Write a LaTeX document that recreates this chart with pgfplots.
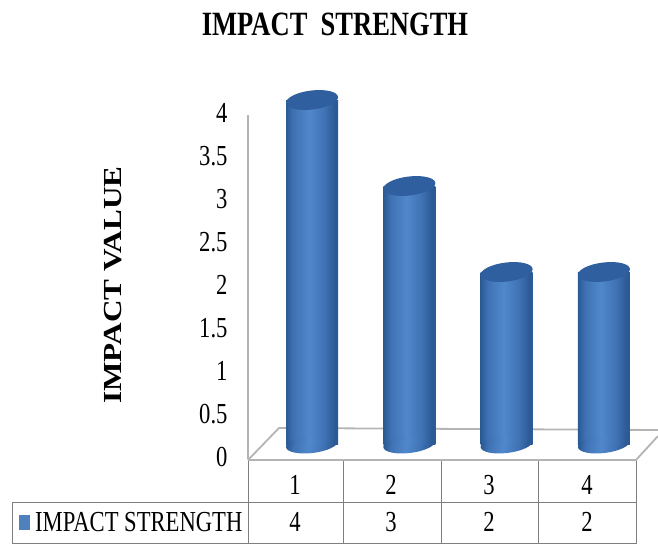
\documentclass[border=0pt]{standalone}
\usepackage{fontspec}
\setmainfont[FakeStretch=0.78]{Liberation Serif}
\newfontfamily\ylabfont[FakeStretch=1.2]{Liberation Serif}
\usepackage{pgfplots}
\pgfplotsset{compat=1.18}
\usepackage{pgfplotstable}

\definecolor{barblue}{HTML}{4F81BD}
\definecolor{bartop}{HTML}{2F5F9E}
\definecolor{gridgrey}{HTML}{B4B4B4}
\definecolor{tablegrey}{HTML}{7F7F7F}
\definecolor{cyledge}{HTML}{2B5A94}
\definecolor{cylmid}{HTML}{3F72B4}
\definecolor{cyllight}{HTML}{5088CC}

% cylinder side: dark edges, lighter centre
\pgfdeclarehorizontalshading{cyl}{100bp}{
  color(0bp)=(cyledge);
  color(25bp)=(cyledge);
  color(32bp)=(cylmid);
  color(47bp)=(cyllight);
  color(62bp)=(cylmid);
  color(72bp)=(cyledge);
  color(75bp)=(cyledge);
  color(100bp)=(cyledge)}

\pgfdeclareplotmark{cyltop}{%
  \pgftransformrotate{7}%
  \pgfsetfillcolor{bartop}%
  \pgfpathellipse{\pgfpointorigin}{\pgfqpoint{26.2pt}{0pt}}{\pgfqpoint{0pt}{9.5pt}}%
  \pgfusepathqfill}
\pgfdeclareplotmark{cylbase}{%
  \pgftransformrotate{7}%
  \pgfpathellipse{\pgfpointorigin}{\pgfqpoint{26.2pt}{0pt}}{\pgfqpoint{0pt}{9pt}}%
  \pgfshadepath{cyl}{-7}%
  \pgfusepath{discard}}

\pgfplotstableread{
x value base
1 4 0
2 3 0
3 2 0
4 2 0
}\impact

\tikzset{px/.style={shift={(-248pt,459pt)},x=1pt,y=-1pt}}

\begin{document}
\begin{tikzpicture}
\useasboundingbox (-248pt,-85pt) rectangle (410pt,459pt);

% floor of the 3D chart
\begin{scope}[px]
\draw[gridgrey, line width=1.8pt, line join=round]
  (248,460) -- (279,428) -- (658,430);
\draw[gridgrey, line width=1.8pt] (248,460) -- (636,460) -- (658,436);
\end{scope}

\begin{axis}[
  at={(0pt,0pt)}, anchor=origin,
  scale only axis,
  width=388pt, height=344pt,
  xmin=0.342, xmax=4.33,
  ymin=0, ymax=4,
  clip=false,
  hide x axis,
  axis y line=left,
  axis line style={gridgrey, line width=1.8pt, -},
  ytick={0,0.5,...,4},
  yticklabels={0,0.5,1,1.5,2,2.5,3,3.5,4},
  major tick length=0pt,
  yticklabel style={font=\fontsize{29}{29}\selectfont, xshift=-17pt, yshift=2pt},
  /pgf/number format/assume math mode=true,
]
\addplot[only marks, mark=cylbase, yshift=15pt] table[x=x, y=base] {\impact};
\pgfplotsinvokeforeach{1,...,4}{
  \addplot[ybar, bar width=52pt, draw=none, shading=cyl, yshift=15pt,
    restrict x to domain=#1:#1] table[x=x, y=value] {\impact};
}
\addplot[only marks, mark=cyltop, yshift=15pt] table[x=x, y=value] {\impact};
\end{axis}

\begin{scope}[px]
% data table under the chart
\draw[tablegrey, line width=0.7pt]
  (248,461) -- (248,544)
  (343,461) -- (343,544)
  (441,461) -- (441,544)
  (538,461) -- (538,544)
  (636,461) -- (636,544)
  (12,502) -- (636,502)
  (12,502) -- (12,544)
  (12,543.5) -- (636,543.5);
\fill[barblue] (19,515) rectangle (30,530);
\foreach \x/\c/\v in {295/1/4, 391/2/3, 489/3/2, 587/4/2} {
  \node[font=\fontsize{29}{29}\selectfont, inner sep=0pt] at (\x,485) {\c};
  \node[font=\fontsize{29}{29}\selectfont, inner sep=0pt] at (\x,522) {\v};
}
\node[font=\fontsize{29}{29}\selectfont, inner sep=0pt, anchor=west] at (35,522) {IMPACT STRENGTH};
\node[font=\bfseries\fontsize{34}{34}\selectfont, inner sep=0pt] at (335,24) {IMPACT\ \ STRENGTH};
\node[font=\ylabfont\bfseries\fontsize{26}{26}\selectfont, inner sep=0pt, rotate=90] at (113,285) {IMPACT VALUE};
\end{scope}
\end{tikzpicture}
\end{document}
